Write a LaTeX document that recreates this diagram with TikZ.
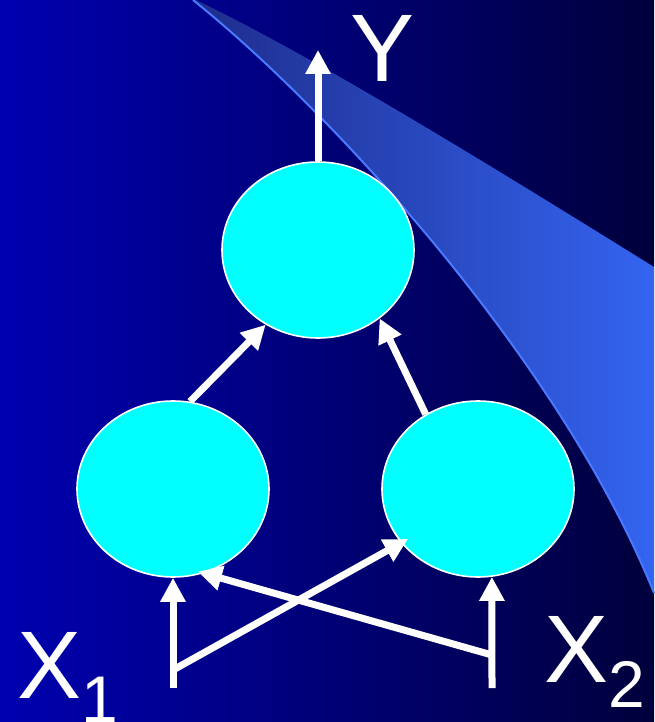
\documentclass[tikz,border=0pt]{standalone}
\usepackage{fontspec}
\setmainfont{Liberation Sans}
\usetikzlibrary{shapes.geometric,arrows.meta}
\definecolor{bgleft}{HTML}{0000B0}
\definecolor{bgright}{HTML}{00003C}
\definecolor{bandleft}{HTML}{1E2C8C}
\definecolor{bandright}{HTML}{3464F0}
\definecolor{bandedge}{HTML}{4A78FF}
\definecolor{nodefill}{HTML}{00FFFF}
\tikzset{
  blob/.style={ellipse, draw=white, line width=1.6pt, fill=nodefill, minimum width=192pt, minimum height=176pt, inner sep=0pt},
  arr/.style={draw=white, line width=7pt, -{Triangle[length=24pt,width=24pt]}},
  lbl/.style={text=white, inner sep=0pt, anchor=base west, font=\fontsize{96}{96}\selectfont},
}
\begin{document}
\begin{tikzpicture}[x=1pt,y=-1pt]
\useasboundingbox (0,0) rectangle (654,722);
% background
\shade[left color=bgleft, right color=bgright] (0,0) rectangle (654,722);
% swoosh band
\begin{scope}
  \clip (196,0) .. controls (300,50) and (450,140) .. (654,267) -- (654,600)
        -- (654,593) .. controls (560,360) and (330,110) .. (193,0) -- cycle;
  \shade[left color=bandleft, right color=bandright] (190,0) rectangle (654,610);
\end{scope}
\draw[bandedge, line width=2pt] (193,0) .. controls (330,110) and (560,360) .. (654,593);
% nodes
\node[blob] (top) at (318,250) {};
\node[blob] (left) at (173,489) {};
\node[blob] (right) at (478,489) {};
% free ends
\coordinate (yend) at (318,50);
\coordinate (x1b) at (173,688);
\coordinate (x2b) at (492,688);
\coordinate (x1j) at (173,670);
\coordinate (x2j) at (492,655);
% connectors
\draw[arr] (top.north) -- (yend);
\draw[arr] (left.79) -- (top.235);
\draw[arr] (right.125) -- (top.312);
\draw[arr] (x1b) -- (left.south);
\draw[arr] (x2b) -- (right.279);
\draw[arr, shorten >=-8pt] (x1j) -- (right.215);
\draw[arr, shorten >=-6pt] (x2j) -- (left.290);
% labels
\node[lbl] (ylab) at (350,82) {Y};
\node[lbl] (x1lab) at (17,698) {X\raisebox{-24pt}{\fontsize{66}{66}\selectfont 1}};
\node[lbl] (x2lab) at (544,682) {X\raisebox{-25pt}{\fontsize{66}{66}\selectfont 2}};
\end{tikzpicture}
\end{document}
